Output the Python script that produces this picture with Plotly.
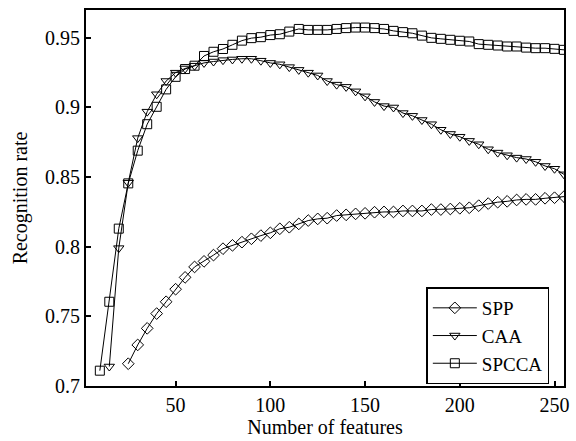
import plotly.graph_objects as go

# Number of features for each method
x_spp = list(range(25, 256, 5))
x_caa = list(range(15, 256, 5))
x_spcca = list(range(10, 256, 5))

spp = [0.716, 0.7295, 0.7414, 0.752, 0.7605, 0.7695, 0.778, 0.7855, 0.7895, 0.794,
       0.7986, 0.801, 0.8033, 0.8057, 0.808, 0.810, 0.8129, 0.814, 0.8164, 0.8188,
       0.820, 0.8205, 0.8224, 0.8229, 0.8236, 0.824, 0.8248, 0.825, 0.825, 0.8257,
       0.8257, 0.8257, 0.8267, 0.8267, 0.8271, 0.8276, 0.828, 0.8295, 0.831, 0.832,
       0.8326, 0.8336, 0.834, 0.834, 0.8348, 0.8352, 0.836]

caa = [0.714, 0.799, 0.846, 0.878, 0.897, 0.9095, 0.919, 0.925, 0.928, 0.930,
       0.932, 0.933, 0.934, 0.9345, 0.935, 0.935, 0.9336, 0.932, 0.931, 0.929,
       0.927, 0.925, 0.923, 0.919, 0.9164, 0.9148, 0.9116, 0.908, 0.904, 0.901,
       0.900, 0.896, 0.894, 0.891, 0.888, 0.884, 0.881, 0.879, 0.876, 0.8736,
       0.870, 0.8676, 0.8657, 0.864, 0.863, 0.861, 0.858, 0.856, 0.852]

spcca = [0.711, 0.7605, 0.813, 0.8455, 0.869, 0.888, 0.9005, 0.913, 0.922, 0.9276,
         0.930, 0.937, 0.940, 0.942, 0.945, 0.948, 0.9498, 0.9505, 0.952, 0.9526,
         0.9545, 0.9564, 0.9557, 0.9557, 0.9557, 0.9564, 0.957, 0.9574, 0.9574, 0.957,
         0.9564, 0.955, 0.9541, 0.9533, 0.9516, 0.950, 0.9493, 0.9486, 0.9479, 0.9474,
         0.9455, 0.945, 0.9445, 0.9438, 0.9438, 0.943, 0.9426, 0.9426, 0.9421, 0.9414]

y_ticks = [0.7, 0.75, 0.8, 0.85, 0.9, 0.95]
y_labels = ['0.7', '0.75', '0.8', '0.85', '0.9', '0.95']
x_ticks = [50, 100, 150, 200, 250]

FONT = 'Liberation Serif'

fig = go.Figure()
for xs, ys, sym, nm in [(x_spp, spp, 'diamond-open', 'SPP'),
                        (x_caa, caa, 'triangle-down-open', 'CAA'),
                        (x_spcca, spcca, 'square-open', 'SPCCA')]:
    fig.add_trace(go.Scatter(
        x=xs, y=ys, mode='lines+markers', name=nm,
        line=dict(color='black', width=1),
        marker=dict(symbol=sym, size=9, color='black',
                    line=dict(color='black', width=1)),
    ))

fig.update_layout(
    width=576, height=441,
    margin=dict(l=86, r=7, t=10, b=53),
    paper_bgcolor='white', plot_bgcolor='white',
    font=dict(family=FONT, size=20, color='black'),
    showlegend=True,
    legend=dict(x=0.712, y=0.262, xanchor='left', yanchor='top',
                bgcolor='white', bordercolor='black', borderwidth=1.5,
                font=dict(family=FONT, size=19), tracegroupgap=0,
                itemwidth=44),
)
fig.update_xaxes(
    range=[2.7, 255], tickvals=x_ticks, ticks='inside', ticklen=5,
    tickwidth=1.5, tickcolor='black', showgrid=False, zeroline=False,
    showline=True, linecolor='black', linewidth=2, mirror=True,
    title=dict(text='Number of features', font=dict(family=FONT, size=20),
               standoff=4),
    tickfont=dict(family=FONT, size=20),
)
fig.update_yaxes(
    range=[0.7, 0.97], tickvals=y_ticks, ticktext=y_labels, ticks='inside',
    ticklen=5, tickwidth=1.5, tickcolor='black', showgrid=False,
    zeroline=False, showline=True, linecolor='black', linewidth=2, mirror=True,
    title=dict(text='Recognition rate', font=dict(family=FONT, size=20),
               standoff=12),
    tickfont=dict(family=FONT, size=20),
)

fig.write_html('out.html', config={'displayModeBar': False},
               post_script="document.body.style.margin='0';"
                           "document.body.style.padding='0';")
